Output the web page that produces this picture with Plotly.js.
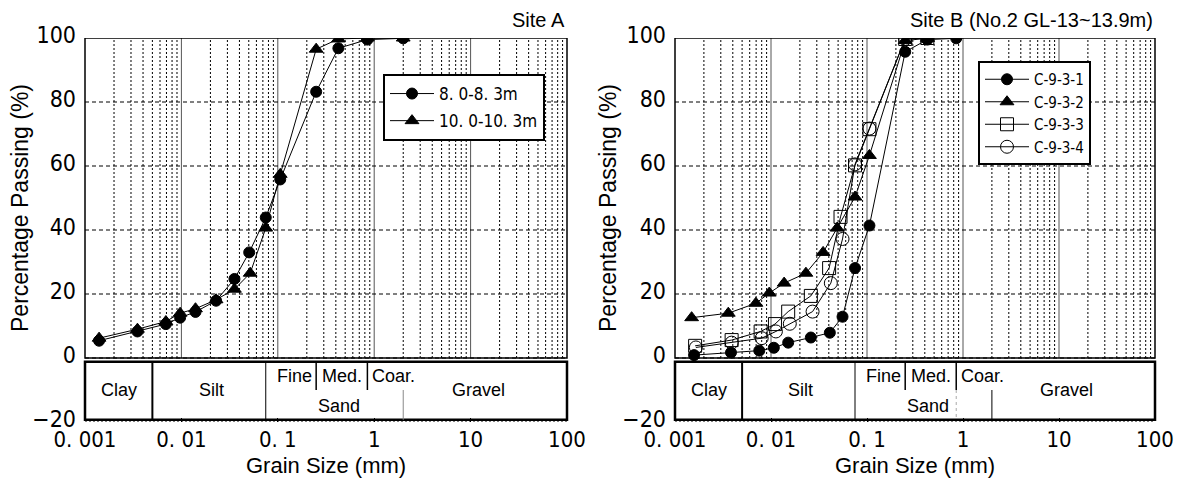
<!DOCTYPE html>
<html>
<head>
<meta charset="utf-8">
<script src="https://cdn.plot.ly/plotly-3.0.1.min.js"></script>
<style>html,body{margin:0;padding:0;background:#fff;}#chart{width:1181px;height:479px;}</style>
</head>
<body>
<div id="chart"></div>
<script>
// ---------- data ----------
const siteA_names = ['8. 0-8. 3m', '10. 0-10. 3m'];
const siteA1_size = [0.0014, 0.0035, 0.0069, 0.0097, 0.014, 0.0229, 0.0355, 0.0505, 0.075, 0.106, 0.25, 0.425, 0.85, 2.0];
const siteA1_pass = [5.4, 8.3, 10.6, 12.6, 14.4, 17.9, 24.7, 33.0, 43.9, 55.8, 83.2, 96.8, 99.5, 99.9];
const siteA2_size = [0.0014, 0.0035, 0.0069, 0.0097, 0.014, 0.0229, 0.0355, 0.0517, 0.075, 0.106, 0.25, 0.425, 0.85, 2.0];
const siteA2_pass = [6.2, 9.0, 11.4, 14.0, 15.4, 18.2, 21.5, 26.5, 40.6, 57.4, 96.5, 99.7, 100, 100];

const siteB_names = ['C-9-3-1', 'C-9-3-2', 'C-9-3-3', 'C-9-3-4'];
const siteB1_size = [0.00158, 0.00383, 0.00755, 0.0107, 0.0151, 0.026, 0.041, 0.0556, 0.075, 0.106, 0.25, 0.425, 0.85];
const siteB1_pass = [0.9, 1.7, 2.3, 3.2, 4.8, 6.4, 7.9, 12.9, 28.1, 41.4, 95.7, 99.5, 99.9];
const siteB2_size = [0.00149, 0.00359, 0.00696, 0.0096, 0.0137, 0.0231, 0.0349, 0.0489, 0.075, 0.106, 0.25, 0.425];
const siteB2_pass = [12.6, 14.0, 17.1, 20.3, 23.4, 26.5, 33.0, 40.6, 50.3, 63.3, 99.2, 99.9];
const siteB3_size = [0.00162, 0.00389, 0.0078, 0.011, 0.0151, 0.026, 0.0403, 0.053, 0.075, 0.106, 0.25, 0.425];
const siteB3_pass = [3.8, 5.6, 8.3, 10.6, 14.5, 19.4, 28.1, 44.1, 60.2, 71.5, 99.7, 100];
const siteB4_size = [0.00165, 0.00389, 0.0080, 0.01125, 0.0157, 0.0271, 0.042, 0.0556, 0.075, 0.106, 0.25, 0.425];
const siteB4_pass = [3.3, 4.8, 6.2, 8.3, 10.7, 14.5, 23.4, 37.2, 60.5, 71.7, 99.7, 100];

const xTickVals = [0.001, 0.01, 0.1, 1, 10, 100];
const xTickText = ['0. 001', '0. 01', '0. 1', '1', '10', '100'];
const yTickVals = [-20, 0, 20, 40, 60, 80, 100];
const yGridVals = [0, 20, 40, 60, 80];

const classLabels = ['Clay', 'Silt', 'Fine', 'Med.', 'Coar.', 'Sand', 'Gravel'];
const classLabelX = [0.00225, 0.0205, 0.15, 0.46, 1.6, 0.43, 12];
const classLabelY = [-10, -10, -5.6, -5.6, -5.6, -15, -10];

const plotTitles = ['Site A', 'Site B (No.2 GL-13~13.9m)'];
const xTitle = 'Grain Size (mm)';
const yTitle = 'Percentage Passing (%)';

// ---------- styling ----------
const NARROW = '"Liberation Sans Narrow", "Arial Narrow", "DejaVu Sans Condensed", sans-serif';
const SANS = '"Liberation Sans", Arial, sans-serif';
const W = 1181, H = 479;
const domA = [85 / W, 567 / W];
const domB = [675 / W, 1155 / W];
const domY = [(H - 422) / H, (H - 38) / H];

const majorVals = [0.01, 0.1, 1, 10];
const minorVals = [];
for (let k = -3; k <= 1; k++) for (let m = 2; m <= 9; m++) minorVals.push(m * Math.pow(10, k));

function xax(domain, anchor) {
  return {
    type: 'log', range: [-3, 2], domain: domain, anchor: anchor,
    tickmode: 'array', tickvals: xTickVals, ticktext: xTickText,
    showgrid: false, showline: false, zeroline: false,
    ticks: 'inside', ticklen: 4, tickcolor: '#000', tickwidth: 1, ticklabelstandoff: 2,
    tickfont: { family: NARROW, size: 22, color: '#000' }
  };
}
function yax(anchor) {
  return {
    range: [-20, 100], domain: domY, anchor: anchor,
    tickmode: 'array', tickvals: yTickVals,
    showgrid: false, zeroline: false, showline: false, ticks: '', ticklabelstandoff: 8, ticklabelshift: -3,
    tickfont: { family: NARROW, size: 23, color: '#000' }
  };
}

function mk(x, y, name, symbol, size, xa, ya, leg, grp) {
  return {
    type: 'scatter', mode: 'lines+markers', x: x, y: y, name: name,
    xaxis: xa, yaxis: ya, legend: leg, legendgroup: grp,
    line: { color: '#000', width: 1 },
    marker: { symbol: symbol, size: size, color: '#000', line: { color: '#000', width: 1 } },
    hoverinfo: 'x+y+name'
  };
}

const traces = [
  mk(siteA1_size, siteA1_pass, siteA_names[0], 'circle', 11, 'x', 'y', 'legend', 'a1'),
  mk(siteA2_size, siteA2_pass, siteA_names[1], 'triangle-up', 12, 'x', 'y', 'legend', 'a2'),
  mk(siteB1_size, siteB1_pass, siteB_names[0], 'circle', 11, 'x2', 'y2', 'legend2', 'b1'),
  mk(siteB2_size, siteB2_pass, siteB_names[1], 'triangle-up', 12, 'x2', 'y2', 'legend2', 'b2'),
  mk(siteB3_size, siteB3_pass, siteB_names[2], 'square-open', 13, 'x2', 'y2', 'legend2', 'b3'),
  mk(siteB4_size, siteB4_pass, siteB_names[3], 'circle-open', 13, 'x2', 'y2', 'legend2', 'b4')
];

const f = v => (Math.log10(v) + 3) / 5;
const BT = -1.2, BB = -19.3;

function shapesFor(sfx, right) {
  const xr = 'x' + sfx + ' domain', yr = 'y' + sfx;
  const s = [];
  const line = (x0, x1, y0, y1, w, c, dash) => s.push({ type: 'line', xref: xr, yref: yr, x0: x0, x1: x1, y0: y0, y1: y1, layer: 'below', line: { color: c || '#000', width: w, dash: dash || 'solid' } });
  // grid (only in the 0-100 region)
  minorVals.forEach(v => line(f(v), f(v), 0, 100, 1, '#000', '2px,2px'));
  majorVals.forEach(v => line(f(v), f(v), 0, 100, 1, '#555'));
  yGridVals.forEach(v => line(0, 1, v, v, 1, '#000', '4px,3px'));
  // frame of the upper region
  s.push({ type: 'rect', xref: xr, yref: yr, x0: 0, x1: 1, y0: 0, y1: 100, layer: 'below', line: { color: '#000', width: 1.5 } });
  // classification box
  s.push({ type: 'rect', xref: xr, yref: yr, x0: 0, x1: 1, y0: BB, y1: BT, layer: 'below', fillcolor: '#fff', line: { color: '#000', width: 2.5 } });
  line(f(0.005), f(0.005), BT, BB, 2);
  line(f(0.075), f(0.075), BT, BB, 1);
  line(f(0.25), f(0.25), BT, -10, 1.5);
  line(f(0.85), f(0.85), BT, -10, 1.5);
  line(f(2), f(2), -10, BB, 1, right ? '#000' : '#888');
  if (right) line(f(0.85), f(0.85), -10, BB, 1, '#aaa', 'dot');
  line(0, 1, -20, -20, 1, '#000', '2px,2px');
  return s;
}

const annotations = [];
function annFor(sfx, idx) {
  const xr = 'x' + sfx + ' domain', yr = 'y' + sfx;
  for (let i = 0; i < classLabels.length; i++) {
    annotations.push({ xref: xr, yref: yr, x: f(classLabelX[i]), y: classLabelY[i], text: classLabels[i], showarrow: false, xanchor: 'center', yanchor: 'middle', font: { family: SANS, size: 18, color: '#000' } });
  }
  annotations.push({ xref: xr, yref: 'paper', x: 1, y: 1 - 20 / H, xanchor: 'right', yanchor: 'middle', text: plotTitles[idx], showarrow: false, font: { family: SANS, size: 20, color: '#000' } });
  annotations.push({ xref: xr, yref: 'paper', x: 0.5, y: 1 - 465 / H, xanchor: 'center', yanchor: 'middle', text: xTitle, showarrow: false, font: { family: SANS, size: 22, color: '#000' } });
}
annFor('', 0);
annFor('2', 1);
annotations.push({ xref: 'paper', yref: 'paper', x: 20 / W, y: 1 - 208 / H, textangle: -90, xanchor: 'center', yanchor: 'middle', text: yTitle, showarrow: false, font: { family: SANS, size: 23, color: '#000' } });
annotations.push({ xref: 'paper', yref: 'paper', x: 608 / W, y: 1 - 208 / H, textangle: -90, xanchor: 'center', yanchor: 'middle', text: yTitle, showarrow: false, font: { family: SANS, size: 23, color: '#000' } });

const layout = {
  width: W, height: H,
  margin: { l: 0, r: 0, t: 0, b: 0 },
  paper_bgcolor: '#fff', plot_bgcolor: '#fff',
  xaxis: xax(domA, 'y'), yaxis: yax('x'),
  xaxis2: xax(domB, 'y2'), yaxis2: yax('x2'),
  showlegend: true,
  legend: { x: 383 / W, y: 1 - 74 / H, xanchor: 'left', yanchor: 'top', bgcolor: '#fff', bordercolor: '#000', borderwidth: 2, itemwidth: 44, tracegroupgap: 2, font: { family: NARROW, size: 17, color: '#000' } },
  legend2: { x: 978 / W, y: 1 - 61 / H, xanchor: 'left', yanchor: 'top', bgcolor: '#fff', bordercolor: '#000', borderwidth: 2, itemwidth: 44, tracegroupgap: 0, font: { family: NARROW, size: 15, color: '#000' } },
  shapes: shapesFor('', false).concat(shapesFor('2', true)),
  annotations: annotations
};

Plotly.newPlot('chart', traces, layout, { staticPlot: true, displayModeBar: false });
</script>
</body>
</html>
